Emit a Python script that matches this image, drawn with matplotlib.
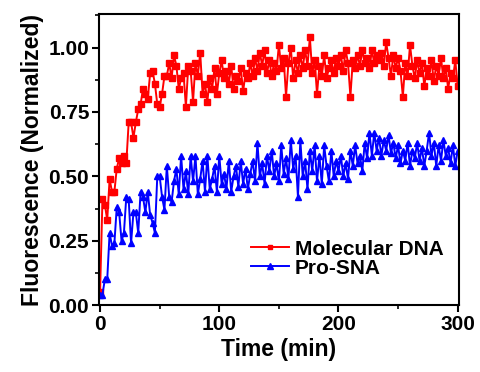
import numpy as np
import matplotlib
matplotlib.use("Agg")
import matplotlib.pyplot as plt
from matplotlib.ticker import MultipleLocator, FormatStrFormatter

plt.rcParams['font.family'] = ['Liberation Sans', 'DejaVu Sans']
plt.rcParams['font.weight'] = 'bold'

# Fluorescence sampled every 2 min from 0 to 300 min
molecular_dna = [
    0.05, 0.41, 0.39, 0.33, 0.49, 0.44, 0.44, 0.53, 0.57, 0.55,
    0.58, 0.55, 0.71, 0.71, 0.65, 0.71, 0.76, 0.78, 0.84, 0.82,
    0.80, 0.90, 0.91, 0.86, 0.78, 0.77, 0.82, 0.89, 0.89, 0.94,
    0.88, 0.97, 0.93, 0.84, 0.88, 0.90, 0.77, 0.93, 0.91, 0.79,
    0.94, 0.89, 0.98, 0.82, 0.86, 0.79, 0.88, 0.84, 0.92, 0.82,
    0.90, 0.95, 0.88, 0.91, 0.86, 0.93, 0.84, 0.89, 0.87, 0.92,
    0.83, 0.90, 0.88, 0.94, 0.89, 0.96, 0.91, 0.98, 0.93, 0.99,
    0.90, 0.95, 0.89, 0.94, 0.91, 1.01, 0.92, 0.96, 0.81, 0.94,
    1.00, 0.88, 0.95, 0.90, 0.97, 0.92, 0.99, 0.93, 1.04, 0.90,
    0.95, 0.82, 0.93, 0.89, 0.97, 0.88, 0.92, 0.95, 0.90, 0.96,
    0.93, 0.97, 0.91, 0.99, 0.94, 0.81, 0.95, 0.92, 0.97, 0.93,
    0.99, 0.94, 0.96, 0.92, 0.99, 0.94, 0.97, 0.95, 0.98, 0.93,
    1.02, 0.96, 0.89, 0.97, 0.92, 0.96, 0.91, 0.81, 0.94, 0.89,
    1.01, 0.93, 0.88, 0.95, 0.90, 0.94, 0.85, 0.92, 0.89, 0.95,
    0.87, 0.93, 0.89, 0.96, 0.88, 0.92, 0.84, 0.90, 0.88, 0.95,
    0.85,
]

pro_sna = [
    0.04, 0.04, 0.10, 0.10, 0.28, 0.23, 0.24, 0.38, 0.36, 0.25,
    0.28, 0.42, 0.41, 0.24, 0.36, 0.36, 0.28, 0.44, 0.42, 0.36,
    0.44, 0.35, 0.32, 0.28, 0.50, 0.50, 0.42, 0.37, 0.54, 0.42,
    0.40, 0.48, 0.53, 0.43, 0.58, 0.45, 0.52, 0.43, 0.58, 0.48,
    0.58, 0.43, 0.49, 0.56, 0.44, 0.58, 0.45, 0.49, 0.54, 0.44,
    0.58, 0.47, 0.51, 0.45, 0.56, 0.44, 0.50, 0.54, 0.46, 0.56,
    0.47, 0.53, 0.45, 0.51, 0.56, 0.48, 0.63, 0.50, 0.55, 0.47,
    0.58, 0.52, 0.60, 0.50, 0.55, 0.48, 0.62, 0.51, 0.57, 0.49,
    0.64, 0.53, 0.58, 0.42, 0.64, 0.50, 0.56, 0.45, 0.60, 0.52,
    0.62, 0.48, 0.58, 0.47, 0.62, 0.54, 0.48, 0.60, 0.50, 0.56,
    0.52, 0.58, 0.50, 0.55, 0.49, 0.60, 0.54, 0.62, 0.55, 0.58,
    0.52, 0.63, 0.57, 0.67, 0.58, 0.67, 0.60, 0.65, 0.58, 0.64,
    0.60, 0.66, 0.59, 0.63, 0.57, 0.62, 0.55, 0.60, 0.56, 0.63,
    0.54, 0.60, 0.57, 0.63, 0.56, 0.61, 0.54, 0.60, 0.67, 0.58,
    0.63, 0.54, 0.62, 0.56, 0.64, 0.58, 0.61, 0.55, 0.62, 0.54,
    0.60,
]

time_red = np.arange(len(molecular_dna)) * 2
time_blue = np.arange(len(pro_sna)) * 2

series_labels = ["Molecular DNA", "Pro-SNA"]

fig = plt.figure(figsize=(4.8, 3.72), dpi=100)
ax = fig.add_axes([0.206, 0.180, 0.750, 0.782])

ax.plot(time_red, molecular_dna, color='#ff0000', lw=1.4, marker='s',
        ms=4.3, mec='#ff0000', label=series_labels[0])
ax.plot(time_blue, pro_sna, color='#0000ff', lw=1.4, marker='^',
        ms=5.0, mec='#0000ff', label=series_labels[1])

ax.set_xlim(-1, 301)
ax.set_ylim(0, 1.13)
ax.xaxis.set_major_locator(MultipleLocator(100))
ax.xaxis.set_minor_locator(MultipleLocator(50))
ax.yaxis.set_major_locator(MultipleLocator(0.25))
ax.yaxis.set_minor_locator(MultipleLocator(0.125))
ax.yaxis.set_major_formatter(FormatStrFormatter('%.2f'))

for s in ax.spines.values():
    s.set_linewidth(1.5)
ax.tick_params(which='major', direction='out', length=5, width=1.5,
               labelsize=15, pad=2)
ax.tick_params(which='minor', direction='out', length=3, width=1.2)

ax.set_xlabel('Time (min)', fontsize=16.5, fontweight='bold', labelpad=3)
ax.set_ylabel('Fluorescence (Normalized)', fontsize=16.5, fontweight='bold',
              labelpad=3)

ax.legend(loc='lower right', bbox_to_anchor=(1.01, 0.03), frameon=False,
          fontsize=15, handlelength=1.8, handletextpad=0.3,
          labelspacing=0.0, markerscale=0.8)

fig.savefig('out.png', dpi=100)
